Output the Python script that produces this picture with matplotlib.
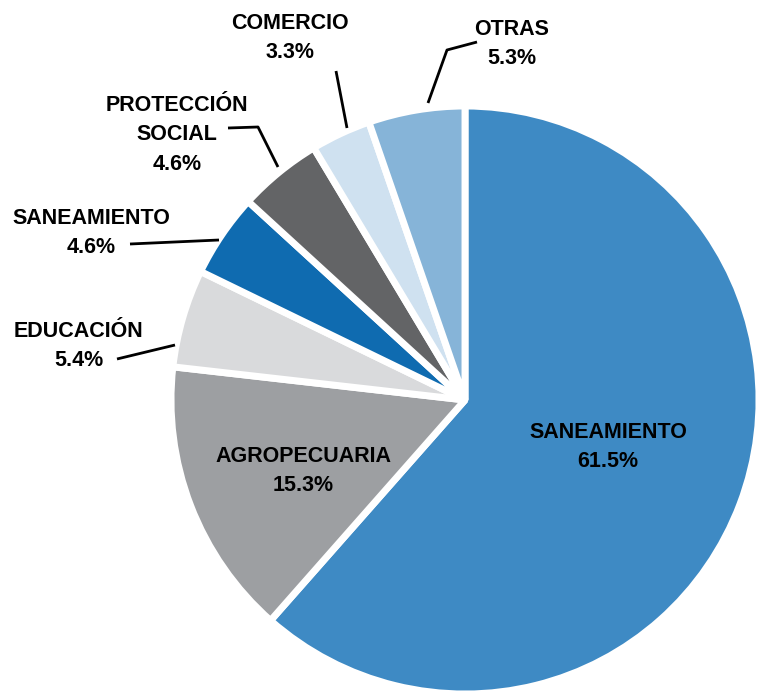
import matplotlib.pyplot as plt

# ================= data =================
categories = ['SANEAMIENTO', 'AGROPECUARIA', 'EDUCACIÓN', 'SANEAMIENTO',
              'PROTECCIÓN\nSOCIAL', 'COMERCIO', 'OTRAS']
shares = [61.5, 15.3, 5.4, 4.6, 4.6, 3.3, 5.3]
colors = ['#3E8AC4', '#9D9FA2', '#D9DADC', '#0F6BB0', '#636466', '#CFE1F0', '#86B4D8']
explode = [0.031, 0, 0, 0, 0, 0, 0]

# ================= layout (pixel coords, y from top) =================
W, H = 765, 693
CENTER = (465, 400)
RADIUS = 294
FONT = ['Liberation Sans', 'DejaVu Sans']
FS = 15.5

# label position for each slice (x, y of text center) and leader polyline
label_pos = [(608, 447), (303, 471), (79, 346), (91, 233), (177, 135), (290, 38), (512, 44)]
leaders = [
    None,
    None,
    [(117, 359), (175, 345)],
    [(130, 244), (219, 240)],
    [(228, 128), (258, 127), (278, 167)],
    [(336, 71), (347, 128)],
    [(477, 42), (447, 50), (428, 103)],
]


def fy(y):
    return H - y


fig = plt.figure(figsize=(W / 100, H / 100), dpi=100)
ax = fig.add_axes([0, 0, 1, 1])

ax.pie(shares, colors=colors, explode=explode, startangle=90, counterclock=False,
       center=(CENTER[0], fy(CENTER[1])), radius=RADIUS,
       wedgeprops={'edgecolor': 'white', 'linewidth': 5, 'joinstyle': 'bevel'},
       frame=True)

for cat, val, (x, y), lead in zip(categories, shares, label_pos, leaders):
    ax.text(x, fy(y), f"{cat}\n{val:.1f}%", ha='center', va='center',
            fontsize=FS, fontweight='bold', family=FONT, linespacing=1.55,
            color='black')
    if lead:
        xs = [p[0] for p in lead]
        ys = [fy(p[1]) for p in lead]
        ax.plot(xs, ys, color='black', lw=2, solid_capstyle='butt')

ax.set_xlim(0, W)
ax.set_ylim(0, H)
ax.set_aspect('equal')
ax.axis('off')

fig.savefig('out.png', dpi=100, facecolor='white')
